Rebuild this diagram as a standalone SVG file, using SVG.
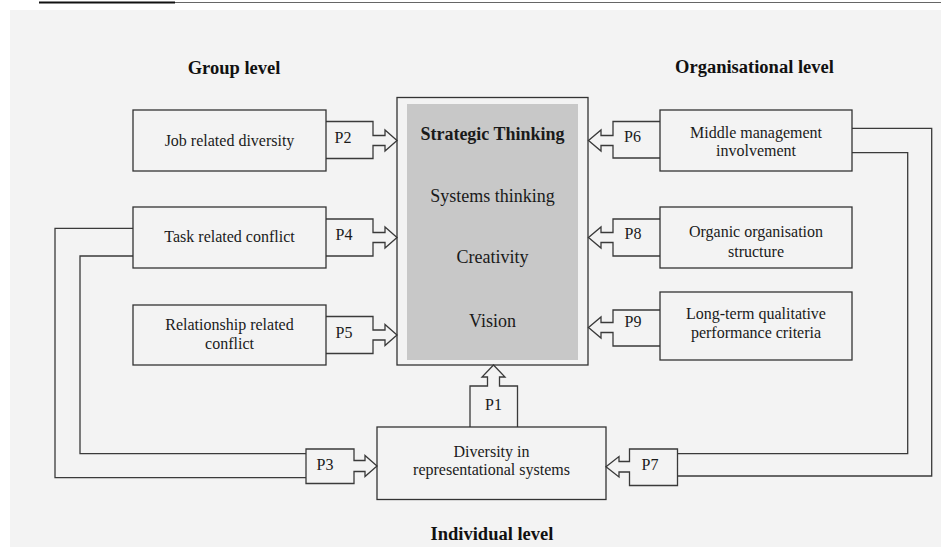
<svg xmlns="http://www.w3.org/2000/svg" width="941" height="547" viewBox="0 0 941 547">
  <style>
    .box { fill: none; stroke: #333; stroke-width: 1.3; }
    .wire { fill: none; stroke: #3a3a3a; stroke-width: 1.3; }
    .t { font-family: "Liberation Serif", "Times New Roman", serif; font-size: 16px; fill: #1a1a1a; text-anchor: middle; }
    .big { font-size: 18px; }
    .hd { font-family: "Liberation Serif", "Times New Roman", serif; font-size: 18.5px; font-weight: bold; fill: #111; text-anchor: middle; }
  </style>

  <!-- page -->
  <rect x="0" y="0" width="941" height="547" fill="#ffffff"/>
  <rect x="10" y="10" width="931" height="537" fill="#f3f3f3"/>
  <line x1="39" y1="2.5" x2="175" y2="2.5" stroke="#111" stroke-width="2"/>
  <line x1="175" y1="2.5" x2="941" y2="2.5" stroke="#666" stroke-width="1.2"/>

  <!-- level headings -->
  <text class="hd" x="234" y="74">Group level</text>
  <text class="hd" x="754.5" y="73">Organisational level</text>
  <text class="hd" x="492" y="540">Individual level</text>

  <!-- connectors -->
  <g id="connectors">
    <!-- P2 -->
    <path class="wire" d="M326,121.5 H373 V135.5 H385 V130 L397,140.5 L385,151 V145.5 H373 V158.5 H326"/>
    <!-- P4 -->
    <path class="wire" d="M326,219 H373 V232.5 H385 V227 L397,237.5 L385,248 V242.5 H373 V256 H326"/>
    <!-- P5 -->
    <path class="wire" d="M326,316.5 H373 V330 H385 V324.5 L397,335 L385,345.5 V340 H373 V353.5 H326"/>
    <!-- P6 -->
    <path class="wire" d="M660,121.5 H613 V135.5 H601 V130 L588.5,140.5 L601,151 V145.5 H613 V158 H660"/>
    <!-- P8 -->
    <path class="wire" d="M660,219 H613 V232.5 H601 V227 L588.5,237.5 L601,248 V242.5 H613 V256 H660"/>
    <!-- P9 -->
    <path class="wire" d="M660,310 H613 V322.5 H601 V317 L588.5,327.5 L601,338 V332.5 H613 V346 H660"/>
    <!-- P1 -->
    <path class="wire" d="M470,427 V386 H487.5 V377 H482 L493.5,365 L505,377 H499.5 V386 H517.5 V427"/>
    <!-- P3 -->
    <path class="wire" d="M354,460.5 V449 H306 V483.5 H354 V471.5 H365 V476.5 L377,466 L365,455.5 V460.5 Z"/>
    <!-- P7 -->
    <path class="wire" d="M629.5,461.5 V449 H677.5 V485.5 H629.5 V472 H619 V477 L606,466.7 L619,456.5 V461.5 Z"/>
    <!-- feedback loops from the group level -->
    <path class="wire" d="M133,228.3 H55 V477.7 H306"/>
    <path class="wire" d="M133,256 H80 V453.7 H306"/>
    <!-- feedback loops from the organisational level -->
    <path class="wire" d="M852,128.3 H931.7 V476 H677.5"/>
    <path class="wire" d="M852,152.7 H907.7 V453.7 H677.5"/>
  </g>

  <!-- connector labels -->
  <g id="labels">
    <text class="t" x="343" y="143">P2</text>
    <text class="t" x="344" y="239.5">P4</text>
    <text class="t" x="344" y="337.5">P5</text>
    <text class="t" x="632.5" y="142">P6</text>
    <text class="t" x="633" y="239">P8</text>
    <text class="t" x="633" y="327">P9</text>
    <text class="t" x="493.5" y="409.5">P1</text>
    <text class="t" x="325" y="470">P3</text>
    <text class="t" x="650" y="469.5">P7</text>
  </g>

  <!-- central construct -->
  <g id="strategic-thinking">
    <rect class="box" x="397" y="97.5" width="191" height="267.5"/>
    <rect x="407" y="104" width="171" height="256" fill="#c8c8c8"/>
    <text class="t big" x="492.5" y="140" font-weight="bold">Strategic Thinking</text>
    <text class="t big" x="492.5" y="201.5">Systems thinking</text>
    <text class="t big" x="492.5" y="263">Creativity</text>
    <text class="t big" x="492.5" y="326.5">Vision</text>
  </g>

  <!-- group level -->
  <g id="job-related-diversity">
    <rect class="box" x="133" y="110" width="193" height="61"/>
    <text class="t" x="229.5" y="146">Job related diversity</text>
  </g>
  <g id="task-related-conflict">
    <rect class="box" x="133" y="207" width="193" height="61"/>
    <text class="t" x="229.5" y="242">Task related conflict</text>
  </g>
  <g id="relationship-related-conflict">
    <rect class="box" x="133" y="305" width="193" height="60"/>
    <text class="t" x="229.5" y="330">Relationship related</text>
    <text class="t" x="229.5" y="348.5">conflict</text>
  </g>

  <!-- organisational level -->
  <g id="middle-management">
    <rect class="box" x="660" y="110" width="192" height="61"/>
    <text class="t" x="756" y="138.3">Middle management</text>
    <text class="t" x="756" y="156">involvement</text>
  </g>
  <g id="organic-structure">
    <rect class="box" x="660" y="207" width="192" height="61"/>
    <text class="t" x="756" y="236.7">Organic organisation</text>
    <text class="t" x="756" y="256.5">structure</text>
  </g>
  <g id="performance-criteria">
    <rect class="box" x="660" y="292" width="192" height="68"/>
    <text class="t" x="756" y="319.3">Long-term qualitative</text>
    <text class="t" x="756" y="338.3">performance criteria</text>
  </g>

  <!-- individual level -->
  <g id="representational-diversity">
    <rect class="box" x="377" y="427" width="229" height="72.5"/>
    <text class="t" x="491.5" y="457">Diversity in</text>
    <text class="t" x="491.5" y="475">representational systems</text>
  </g>
</svg>
